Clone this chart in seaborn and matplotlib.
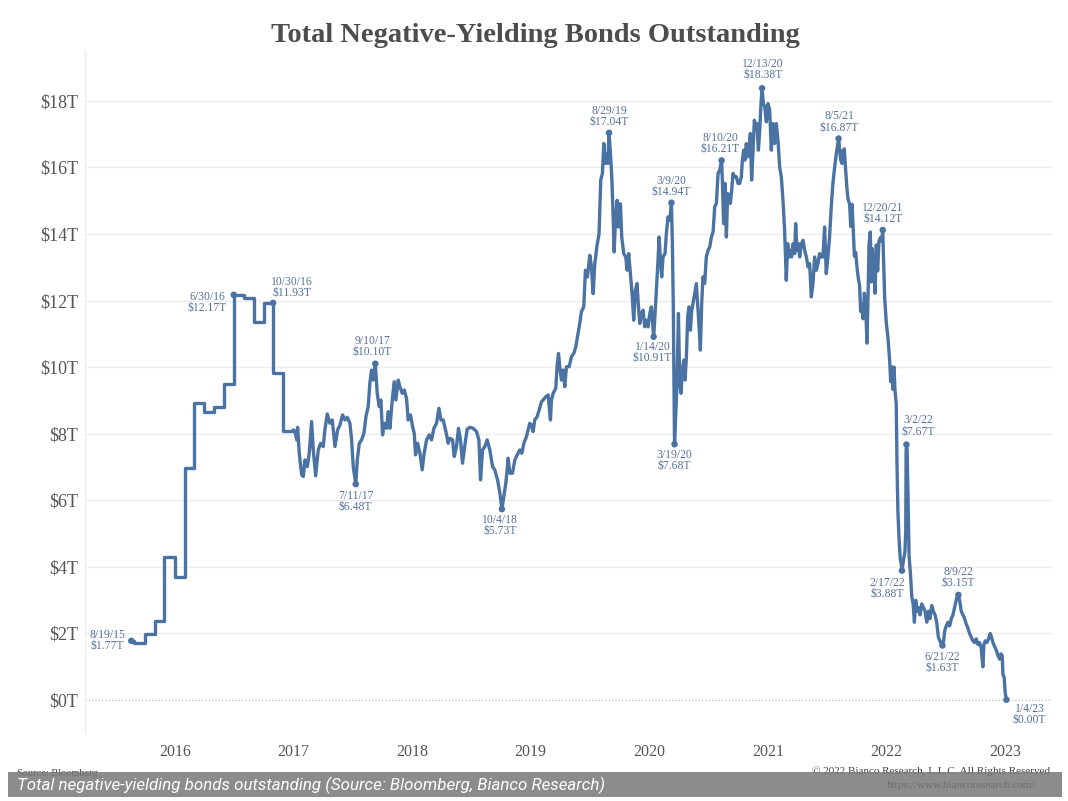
import numpy as np
import pandas as pd
import seaborn as sns
from matplotlib import pyplot as plt
from matplotlib.patches import Rectangle

# monthly readings 2015-2016 (decimal years, $ trillions)
step_years = [2015.633, 2015.660, 2015.746, 2015.830, 2015.913, 2016.000, 2016.083,
              2016.163, 2016.247, 2016.330, 2016.414, 2016.497, 2016.581, 2016.666,
              2016.748, 2016.830, 2016.913, 2016.999]
step_vals = [1.77, 1.72, 1.98, 2.38, 4.30, 3.70, 6.97,
             8.92, 8.65, 8.80, 9.49, 12.17, 12.07, 11.35,
             11.93, 9.82, 8.09, 8.11]

# daily readings 2017-2023 (sampled off the chart)
daily_years = [
    2016.999, 2017.013, 2017.027, 2017.035, 2017.049, 2017.069, 2017.083, 2017.097, 2017.117, 2017.133,
    2017.153, 2017.167, 2017.187, 2017.209, 2017.229, 2017.251, 2017.265, 2017.285, 2017.307, 2017.327,
    2017.350, 2017.372, 2017.392, 2017.414, 2017.434, 2017.453, 2017.476, 2017.490, 2017.504, 2017.525,
    2017.538, 2017.555, 2017.574, 2017.594, 2017.611, 2017.630, 2017.644, 2017.658, 2017.672, 2017.690,
    2017.706, 2017.723, 2017.737, 2017.751, 2017.765, 2017.785, 2017.799, 2017.813, 2017.833, 2017.849,
    2017.863, 2017.883, 2017.897, 2017.917, 2017.934, 2017.953, 2017.967, 2017.987, 2018.004, 2018.018,
    2018.029, 2018.046, 2018.066, 2018.085, 2018.102, 2018.122, 2018.144, 2018.164, 2018.184, 2018.206,
    2018.226, 2018.243, 2018.262, 2018.285, 2018.304, 2018.318, 2018.341, 2018.355, 2018.374, 2018.391,
    2018.408, 2018.425, 2018.445, 2018.464, 2018.487, 2018.515, 2018.543, 2018.563, 2018.577, 2018.594,
    2018.613, 2018.633, 2018.655, 2018.678, 2018.697, 2018.720, 2018.740, 2018.757, 2018.773, 2018.790,
    2018.810, 2018.824, 2018.846, 2018.866, 2018.886, 2018.908, 2018.925, 2018.942, 2018.964, 2018.992,
    2019.006, 2019.020, 2019.034, 2019.054, 2019.071, 2019.091, 2019.105, 2019.127, 2019.147, 2019.166,
    2019.175, 2019.189, 2019.211, 2019.222, 2019.234, 2019.245, 2019.259, 2019.273, 2019.287, 2019.301,
    2019.324, 2019.343, 2019.363, 2019.380, 2019.399, 2019.413, 2019.427, 2019.447, 2019.461, 2019.478,
    2019.498, 2019.512, 2019.526, 2019.540, 2019.559, 2019.576, 2019.590, 2019.604, 2019.616, 2019.627,
    2019.638, 2019.649, 2019.660, 2019.672, 2019.683, 2019.694, 2019.703, 2019.714, 2019.728, 2019.739,
    2019.756, 2019.767, 2019.784, 2019.801, 2019.812, 2019.826, 2019.840, 2019.854, 2019.868, 2019.882,
    2019.896, 2019.908, 2019.919, 2019.933, 2019.947, 2019.961, 2019.975, 2019.989, 2020.003, 2020.017,
    2020.036, 2020.045, 2020.059, 2020.073, 2020.082, 2020.093, 2020.104, 2020.115, 2020.132, 2020.143,
    2020.157, 2020.172, 2020.186, 2020.194, 2020.202, 2020.212, 2020.233, 2020.245, 2020.256, 2020.267,
    2020.278, 2020.290, 2020.301, 2020.312, 2020.323, 2020.334, 2020.346, 2020.357, 2020.368, 2020.382,
    2020.396, 2020.407, 2020.419, 2020.430, 2020.441, 2020.452, 2020.466, 2020.480, 2020.495, 2020.509,
    2020.523, 2020.537, 2020.551, 2020.565, 2020.579, 2020.593, 2020.609, 2020.615, 2020.626, 2020.638,
    2020.649, 2020.660, 2020.671, 2020.683, 2020.694, 2020.705, 2020.719, 2020.733, 2020.747, 2020.761,
    2020.775, 2020.784, 2020.795, 2020.806, 2020.817, 2020.829, 2020.840, 2020.851, 2020.862, 2020.874,
    2020.885, 2020.896, 2020.907, 2020.919, 2020.930, 2020.941, 2020.950, 2020.961, 2020.972, 2020.986,
    2021.000, 2021.014, 2021.028, 2021.042, 2021.056, 2021.070, 2021.084, 2021.098, 2021.112, 2021.126,
    2021.140, 2021.154, 2021.166, 2021.177, 2021.188, 2021.199, 2021.211, 2021.225, 2021.233, 2021.244,
    2021.256, 2021.267, 2021.281, 2021.295, 2021.309, 2021.323, 2021.337, 2021.351, 2021.365, 2021.379,
    2021.393, 2021.407, 2021.421, 2021.435, 2021.449, 2021.463, 2021.477, 2021.491, 2021.505, 2021.519,
    2021.533, 2021.547, 2021.562, 2021.576, 2021.595, 2021.612, 2021.624, 2021.632, 2021.643, 2021.655,
    2021.666, 2021.674, 2021.688, 2021.697, 2021.708, 2021.716, 2021.728, 2021.739, 2021.750, 2021.761,
    2021.772, 2021.781, 2021.789, 2021.801, 2021.812, 2021.823, 2021.834, 2021.845, 2021.851, 2021.862,
    2021.871, 2021.879, 2021.890, 2021.902, 2021.913, 2021.924, 2021.935, 2021.947, 2021.958, 2021.967,
    2021.983, 2021.997, 2022.011, 2022.025, 2022.034, 2022.045, 2022.053, 2022.062, 2022.070, 2022.081,
    2022.087, 2022.095, 2022.104, 2022.115, 2022.122, 2022.129, 2022.143, 2022.154, 2022.161, 2022.164,
    2022.167, 2022.172, 2022.181, 2022.189, 2022.201, 2022.212, 2022.223, 2022.234, 2022.245, 2022.257,
    2022.268, 2022.282, 2022.296, 2022.310, 2022.324, 2022.338, 2022.352, 2022.366, 2022.380, 2022.394,
    2022.408, 2022.422, 2022.436, 2022.455, 2022.470, 2022.480, 2022.491, 2022.503, 2022.517, 2022.531,
    2022.545, 2022.559, 2022.573, 2022.590, 2022.605, 2022.615, 2022.629, 2022.643, 2022.657, 2022.671,
    2022.685, 2022.699, 2022.713, 2022.727, 2022.741, 2022.755, 2022.769, 2022.783, 2022.797, 2022.811,
    2022.820, 2022.831, 2022.845, 2022.859, 2022.873, 2022.884, 2022.896, 2022.910, 2022.924, 2022.938,
    2022.952, 2022.963, 2022.974, 2022.980, 2022.991, 2022.999, 2023.010,
]
daily_vals = [
    8.11, 8.06, 7.81, 8.19, 7.41, 6.76, 6.71, 7.21, 7.01, 7.41,
    8.36, 7.51, 6.73, 7.51, 7.71, 7.61, 8.11, 8.59, 8.31, 8.41,
    7.61, 8.11, 8.26, 8.56, 8.41, 8.49, 8.31, 7.81, 7.01, 6.48,
    7.21, 7.71, 7.81, 8.01, 8.51, 8.81, 9.51, 9.91, 9.61, 10.10,
    9.21, 8.81, 9.01, 7.96, 8.31, 8.16, 8.66, 8.16, 9.01, 9.56,
    9.01, 9.61, 9.41, 9.21, 9.31, 9.06, 8.41, 8.56, 8.21, 8.01,
    7.36, 7.71, 7.41, 6.91, 7.41, 7.81, 7.96, 7.81, 8.16, 8.31,
    8.76, 8.41, 8.41, 8.06, 7.71, 7.86, 7.81, 7.31, 7.61, 8.16,
    7.81, 7.11, 7.66, 8.13, 8.19, 8.16, 8.06, 7.81, 6.61, 7.51,
    7.61, 7.81, 7.51, 7.01, 6.91, 6.61, 6.21, 5.73, 6.11, 6.51,
    7.26, 6.81, 6.81, 7.21, 7.36, 7.51, 7.41, 7.71, 7.91, 8.31,
    8.26, 8.06, 8.41, 8.51, 8.71, 8.96, 9.01, 9.11, 9.16, 8.41,
    9.01, 9.21, 9.36, 10.01, 10.41, 10.01, 9.61, 9.91, 9.41, 10.01,
    10.01, 10.31, 10.41, 10.61, 11.01, 11.31, 11.66, 11.81, 12.91, 12.71,
    13.36, 13.01, 12.21, 13.11, 13.66, 14.01, 15.62, 15.82, 16.72, 16.12,
    16.42, 16.12, 17.04, 16.42, 15.72, 14.61, 13.46, 14.41, 15.01, 14.21,
    14.91, 13.91, 13.41, 13.31, 12.91, 13.41, 12.81, 12.21, 11.41, 12.31,
    12.51, 11.81, 11.31, 11.61, 11.71, 11.21, 11.41, 11.21, 11.61, 11.81,
    10.91, 11.41, 12.31, 13.21, 13.91, 13.21, 12.71, 13.31, 13.41, 14.01,
    14.51, 14.41, 14.94, 13.71, 11.71, 7.68, 9.51, 11.61, 9.51, 9.21,
    9.91, 10.21, 9.61, 10.31, 11.51, 11.81, 11.11, 11.71, 11.91, 12.21,
    12.51, 11.91, 11.21, 10.51, 11.91, 12.71, 12.51, 13.31, 13.51, 13.61,
    13.91, 14.06, 14.82, 14.92, 15.82, 15.92, 16.21, 15.62, 14.31, 15.52,
    13.91, 15.22, 15.02, 14.92, 15.32, 15.82, 15.72, 15.72, 15.52, 15.52,
    15.72, 16.22, 16.52, 16.22, 16.72, 16.32, 16.52, 17.02, 15.62, 16.52,
    17.42, 17.22, 17.32, 16.52, 17.12, 17.92, 18.38, 17.92, 17.82, 17.37,
    17.92, 17.72, 16.52, 17.32, 16.72, 17.32, 16.82, 16.02, 15.72, 15.02,
    14.11, 12.61, 13.71, 13.31, 13.51, 13.31, 13.71, 13.41, 14.31, 13.51,
    13.71, 13.31, 13.71, 13.81, 13.51, 13.31, 13.01, 13.11, 12.11, 12.51,
    13.31, 12.91, 13.11, 13.41, 13.31, 13.31, 14.21, 12.81, 13.31, 13.91,
    14.82, 15.52, 16.02, 16.42, 16.87, 16.23, 16.12, 16.51, 16.56, 15.89,
    15.34, 15.06, 14.89, 14.23, 14.89, 14.34, 13.34, 13.45, 13.00, 12.67,
    12.45, 11.67, 11.89, 11.45, 12.22, 11.89, 10.72, 12.45, 13.67, 14.06,
    12.56, 13.56, 13.23, 12.22, 13.67, 12.89, 13.78, 13.89, 13.78, 14.12,
    12.11, 11.33, 10.89, 10.22, 9.56, 10.00, 9.33, 10.00, 9.33, 8.89,
    7.11, 5.66, 4.88, 4.22, 4.11, 3.88, 4.22, 4.44, 5.11, 7.44,
    7.67, 7.55, 5.96, 4.33, 3.77, 3.10, 2.88, 2.33, 2.99, 2.66,
    2.77, 2.55, 2.88, 2.77, 2.66, 2.33, 2.66, 2.44, 2.83, 2.66,
    2.55, 2.33, 1.88, 1.72, 1.63, 1.77, 2.10, 2.22, 2.33, 2.22,
    2.44, 2.55, 2.77, 3.05, 3.15, 2.99, 2.66, 2.55, 2.44, 2.27,
    2.16, 1.99, 1.88, 1.77, 1.72, 1.83, 1.66, 1.72, 1.55, 0.99,
    1.66, 1.77, 1.72, 1.83, 1.99, 1.88, 1.72, 1.60, 1.49, 1.33,
    1.22, 1.38, 1.33, 0.77, 0.66, 0.21, 0.00,
]

note_dates = ["8/19/15", "6/30/16", "10/30/16", "7/11/17", "9/10/17", "10/4/18",
              "8/29/19", "1/14/20", "3/9/20", "3/19/20", "8/10/20", "12/13/20",
              "8/5/21", "12/20/21", "2/17/22", "3/2/22", "6/21/22", "8/9/22", "1/4/23"]
note_years = [2015.633, 2016.497, 2016.828, 2017.525, 2017.690, 2018.757,
              2019.660, 2020.036, 2020.186, 2020.212, 2020.609, 2020.950,
              2021.595, 2021.967, 2022.129, 2022.167, 2022.470, 2022.605, 2023.010]
note_vals = [1.77, 12.17, 11.93, 6.48, 10.10, 5.73,
             17.04, 10.91, 14.94, 7.68, 16.21, 18.38,
             16.87, 14.12, 3.88, 7.67, 1.63, 3.15, 0.00]

year_ticks = [2016, 2017, 2018, 2019, 2020, 2021, 2022, 2023]
value_ticks = [0, 2, 4, 6, 8, 10, 12, 14, 16, 18]

BLUE = "#4a72a3"
NOTE = "#557099"
GREY = "#555555"

sns.set_theme(style="white")
plt.rcParams['font.family'] = ['Liberation Serif', 'DejaVu Serif']

fig = plt.figure(figsize=(10.68, 8.01), dpi=100)
ax = fig.add_axes([0.0796, 0.0849, 0.905, 0.8514])

steps = pd.DataFrame({"year": step_years, "value": step_vals})
daily = pd.DataFrame({"year": daily_years, "value": daily_vals})
sns.lineplot(data=steps, x="year", y="value", estimator=None, sort=False,
             drawstyle="steps-post", color=BLUE, lw=2.4, ax=ax)
sns.lineplot(data=daily, x="year", y="value", estimator=None, sort=False,
             color=BLUE, lw=2.4, ax=ax)
sns.scatterplot(x=note_years, y=note_vals, color=BLUE, s=22, edgecolor="none",
                zorder=4, ax=ax)

# label placement: (dx, dy) in pixels, ha, va
placement = [(-6, 0, "right", "center"), (-7, -8, "right", "center"), (19, 15, "center", "center"),
             (0, -6, "center", "top"), (-3, 6, "center", "bottom"), (-2, -5, "center", "top"),
             (0, 5, "center", "bottom"), (-1, -4, "center", "top"), (0, 5, "center", "bottom"),
             (0, -5, "center", "top"), (-1, 5, "center", "bottom"), (1, 7, "center", "bottom"),
             (1, 5, "center", "bottom"), (0, 5, "center", "bottom"), (-15, -6, "center", "top"),
             (12, 7, "center", "bottom"), (0, -5, "center", "top"), (0, 6, "center", "bottom"),
             (23, -3, "center", "top")]
for d, yr, v, (dx, dy, ha, va) in zip(note_dates, note_years, note_vals, placement):
    ax.annotate(f"{d}\n\\${v:.2f}T", xy=(yr, v), xytext=(dx, dy), textcoords="offset pixels",
                ha=ha, va=va, multialignment="center", fontsize=8.4, color=NOTE,
                linespacing=0.9, zorder=5)

ax.set_xlim(2015.243, 2023.390)
ax.set_ylim(-1.0, 19.5)
ax.set_xticks(year_ticks)
ax.set_xticklabels([str(y) for y in year_ticks])
ax.set_yticks(value_ticks)
ax.set_yticklabels([f"\\${v}T" for v in value_ticks])
ax.set_xlabel("")
ax.set_ylabel("")
ax.grid(False)
for v in value_ticks[1:]:
    ax.axhline(v, color="#ededed", lw=1, zorder=0)
ax.axhline(0, color="#b5b5b5", lw=0.8, ls=(0, (1, 2)), zorder=0)
ax.tick_params(axis="y", length=0, pad=5, labelsize=13, labelcolor=GREY)
ax.tick_params(axis="x", length=0, pad=8, labelsize=11.5, labelcolor=GREY)
for s in ["top", "right", "bottom"]:
    ax.spines[s].set_visible(False)
ax.spines["left"].set_color("#eeeeee")
ax.spines["left"].set_linewidth(1)

fig.text(0.501, 1 - 35 / 801, "Total Negative-Yielding Bonds Outstanding", ha="center",
         va="center", fontsize=20.5, fontweight="bold", color="#4d4d4d")

# footer
fig.text(17 / 1068, 1 - 774 / 801, "Source: Bloomberg", fontsize=7.5, color="#444444", va="center")
fig.text(1050 / 1068, 1 - 771 / 801, "\u00a9 2022 Bianco Research, L.L.C. All Rights Reserved",
         ha="right", va="center", fontsize=8, color="#444444")
fig.text(1035 / 1068, 1 - 785 / 801, "https://www.biancoresearch.com/", ha="right", va="center",
         fontsize=8, color="#3a3a3a")
fig.add_artist(Rectangle((8 / 1068, 4 / 801), 1054 / 1068, 25 / 801, transform=fig.transFigure,
                         facecolor="#787878", alpha=0.85, edgecolor="none", zorder=5))
fig.text(17 / 1068, 1 - 785 / 801,
         "Total negative-yielding bonds outstanding (Source: Bloomberg, Bianco Research)",
         family=["Roboto", "DejaVu Sans"], style="italic", color="white", fontsize=12.2,
         va="center", zorder=6)

fig.savefig("out.png", dpi=100)
